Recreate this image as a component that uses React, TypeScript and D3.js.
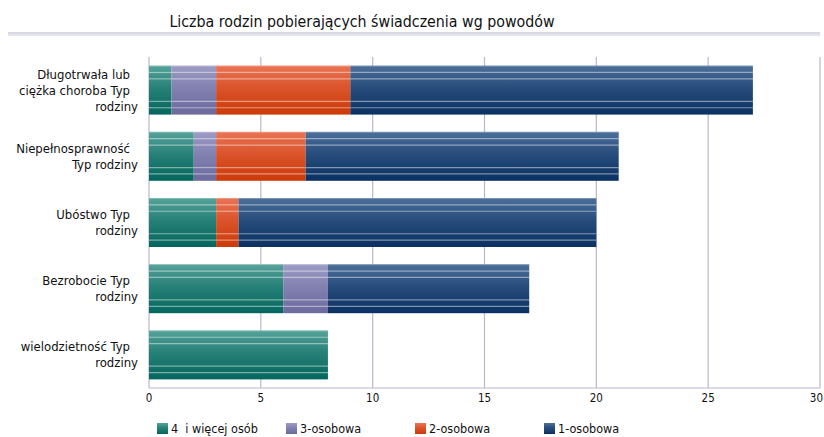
import React from "react";
import * as d3 from "d3";

const categories = [
  ["Długotrwała lub", "ciężka choroba Typ", "rodziny"],
  ["Niepełnosprawność", "Typ rodziny"],
  ["Ubóstwo Typ", "rodziny"],
  ["Bezrobocie Typ", "rodziny"],
  ["wielodzietność Typ", "rodziny"],
];
const seriesNames = ["4  i więcej osób", "3-osobowa", "2-osobowa", "1-osobowa"];
const s4plus = [1, 2, 3, 6, 8];
const s3 = [2, 1, 0, 2, 0];
const s2 = [6, 4, 1, 0, 0];
const s1 = [18, 14, 16, 9, 0];
const xTicks = [0, 5, 10, 15, 20, 25, 30];

const colors = [
  { top: "#56a39a", bot: "#03665c" },
  { top: "#9d9cc6", bot: "#6c6a9e" },
  { top: "#ea7455", bot: "#cc3a08" },
  { top: "#4c6f9a", bot: "#0a3163" },
];

const W = 824, H = 437;
const left = 149, right = 820, top = 57, bottom = 388;
const font = "'DejaVu Sans Condensed', 'DejaVu Sans', sans-serif";

export default function App() {
  const x = d3.scaleLinear().domain([0, 30]).range([left, right]);
  const y = d3.scaleBand<number>().domain(d3.range(categories.length)).range([top, bottom]).paddingInner(0.26).paddingOuter(0.13);
  const series = [s4plus, s3, s2, s1];
  const stacked = d3.stack<number>().keys(d3.range(4).map(String)).value((i, k) => series[+k][i])(d3.range(categories.length));
  const bh = y.bandwidth();
  const lineFr = [0.14, 0.27, 0.73, 0.86];
  return (
    <svg width={W} height={H} style={{ display: "block", position: "absolute", left: 0, top: 0 }}>
      <defs>
        {colors.map((c, i) => (
          <linearGradient key={i} id={"g" + i} x1="0" y1="0" x2="0" y2="1">
            <stop offset="0" stopColor={c.top} />
            <stop offset="0.45" stopColor={d3.interpolateRgb(c.top, c.bot)(0.55)} />
            <stop offset="1" stopColor={c.bot} />
          </linearGradient>
        ))}
      </defs>
      <rect width={W} height={H} fill="#fff" />
      <text x={362} y={27} textAnchor="middle" fontFamily={font} fontSize={15.8} fill="#111">
        Liczba rodzin pobierających świadczenia wg powodów
      </text>
      <line x1={8} x2={820} y1={33} y2={33} stroke="#b4b4c8" strokeWidth={1.2} />
      <line x1={8} x2={820} y1={35} y2={35} stroke="#c8c8d8" strokeWidth={1} />
      {xTicks.map((t) => (
        <g key={t}>
          <line x1={x(t)} x2={x(t)} y1={top} y2={bottom} stroke="#b8b6d2" strokeWidth={1.2} />
          <text x={x(t)} y={402} textAnchor={t === 30 ? "end" : "middle"} dx={t === 30 ? 3 : 0} fontFamily={font} fontSize={11.5} fill="#111">{t}</text>
        </g>
      ))}
      <line x1={left} x2={right} y1={bottom} y2={bottom} stroke="#b8b6d2" strokeWidth={1.2} />
      {stacked.map((layer, si) =>
        layer.map((d, ci) => {
          if (d[1] - d[0] <= 0) return null;
          const x0 = x(d[0]), x1 = x(d[1]), y0 = y(ci)!;
          return (
            <g key={si + "-" + ci}>
              <rect x={x0} y={y0} width={x1 - x0} height={bh} fill={`url(#g${si})`} />
              {lineFr.map((f, li) => (
                <line key={li} x1={x0} x2={x1} y1={y0 + bh * f} y2={y0 + bh * f} stroke="#fff" strokeOpacity={0.45} strokeWidth={1.2} />
              ))}
              <line x1={x0} x2={x1} y1={y0 + 0.5} y2={y0 + 0.5} stroke="#fff" strokeOpacity={0.25} />
            </g>
          );
        })
      )}
      {categories.map((lines, ci) => {
        const cy = y(ci)! + bh / 2;
        const lh = 16;
        const start = cy - ((lines.length - 1) * lh) / 2;
        return (
          <text key={ci} textAnchor="end" fontFamily={font} fontSize={13} fill="#111">
            {lines.map((l, li) => (
              <tspan key={li} x={138} dx={li < lines.length - 1 ? -8 : 0} y={start + li * lh + 4.5}>{l}</tspan>
            ))}
          </text>
        );
      })}
      {seriesNames.map((n, i) => {
        const lx = 157 + i * 129;
        return (
          <g key={n}>
            <rect x={lx} y={423} width={11} height={11} fill={`url(#g${i})`} />
            <text x={lx + 14} y={433} fontFamily={font} fontSize={12.5} fill="#111" xmlSpace="preserve">{n}</text>
          </g>
        );
      })}
    </svg>
  );
}
